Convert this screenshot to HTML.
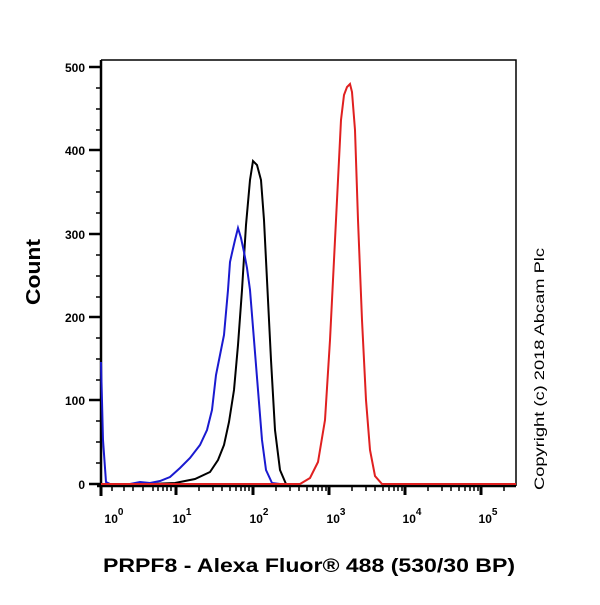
<!DOCTYPE html>
<html><head><style>body{margin:0;background:#fff}</style></head><body>
<svg width="600" height="600" xmlns="http://www.w3.org/2000/svg" style="font-family:'Liberation Sans',Arial,sans-serif">
<defs><clipPath id="cp"><rect x="90" y="480" width="427" height="30"/></clipPath></defs>
<rect width="600" height="600" fill="#fff"/>
<path d="M101,60 H516 V486" fill="none" stroke="#000" stroke-width="1.5"/>
<line x1="101" y1="60" x2="101" y2="490" stroke="#000" stroke-width="2.5"/>
<line x1="97" y1="486" x2="516" y2="486" stroke="#000" stroke-width="2.5"/>
<g stroke="#000" stroke-width="2.5">
<line x1="89" y1="67" x2="101" y2="67"/><line x1="89" y1="150" x2="101" y2="150"/><line x1="89" y1="234" x2="101" y2="234"/><line x1="89" y1="317" x2="101" y2="317"/><line x1="89" y1="400" x2="101" y2="400"/><line x1="89" y1="484" x2="101" y2="484"/>
</g>
<g stroke="#000" stroke-width="1.5">
<line x1="96" y1="88" x2="101" y2="88"/><line x1="96" y1="109" x2="101" y2="109"/><line x1="96" y1="130" x2="101" y2="130"/>
<line x1="96" y1="171" x2="101" y2="171"/><line x1="96" y1="192" x2="101" y2="192"/><line x1="96" y1="213" x2="101" y2="213"/>
<line x1="96" y1="255" x2="101" y2="255"/><line x1="96" y1="276" x2="101" y2="276"/><line x1="96" y1="297" x2="101" y2="297"/>
<line x1="96" y1="338" x2="101" y2="338"/><line x1="96" y1="359" x2="101" y2="359"/><line x1="96" y1="380" x2="101" y2="380"/>
<line x1="96" y1="421" x2="101" y2="421"/><line x1="96" y1="442" x2="101" y2="442"/><line x1="96" y1="463" x2="101" y2="463"/>
</g>
<g font-size="12" font-weight="bold" text-anchor="end">
<text x="85" y="72">500</text><text x="85" y="155">400</text><text x="85" y="239">300</text><text x="85" y="322">200</text><text x="85" y="405">100</text><text x="85" y="489">0</text>
</g>
<g clip-path="url(#cp)">
<g stroke="#000" stroke-width="1.5">
<line x1="101" y1="486" x2="101" y2="496" stroke-width="3"/>
<line x1="112" y1="486" x2="112" y2="491"/><line x1="124" y1="486" x2="124" y2="491"/><line x1="133" y1="486" x2="133" y2="491"/><line x1="143" y1="486" x2="143" y2="491"/><line x1="153" y1="486" x2="153" y2="491"/><line x1="158" y1="486" x2="158" y2="491"/><line x1="163" y1="486" x2="163" y2="491"/><line x1="167" y1="486" x2="167" y2="491"/><line x1="171" y1="486" x2="171" y2="491"/>
</g>
<g id="dec" stroke="#000" stroke-width="1.5">
<line x1="176" y1="486" x2="176" y2="495" stroke-width="3"/>
<line x1="199" y1="486" x2="199" y2="491"/><line x1="213" y1="486" x2="213" y2="491"/><line x1="222" y1="486" x2="222" y2="491"/><line x1="230" y1="486" x2="230" y2="491"/><line x1="236" y1="486" x2="236" y2="491"/><line x1="241" y1="486" x2="241" y2="491"/><line x1="245" y1="486" x2="245" y2="491"/><line x1="249" y1="486" x2="249" y2="491"/>
</g>
<use href="#dec" x="77"/><use href="#dec" x="153"/><use href="#dec" x="229"/><use href="#dec" x="305"/>
</g>
<g font-size="12" font-weight="bold" text-anchor="middle">
<text x="114" y="523">10<tspan font-size="10" dy="-8">0</tspan></text>
<text x="182" y="523">10<tspan font-size="10" dy="-8">1</tspan></text>
<text x="259" y="523">10<tspan font-size="10" dy="-8">2</tspan></text>
<text x="336" y="523">10<tspan font-size="10" dy="-8">3</tspan></text>
<text x="412" y="523">10<tspan font-size="10" dy="-8">4</tspan></text>
<text x="488" y="523">10<tspan font-size="10" dy="-8">5</tspan></text>
</g>
<path d="M101,484 L150,484 L175,483 L195,479 L210,472 L218,460 L224,445 L229,422 L234,390 L238,345 L242,290 L246,225 L250,180 L253,161 L257,165 L261,180 L264,220 L267,280 L271,360 L275,430 L280,470 L286,484 L300,484" fill="none" stroke="#000" stroke-width="2"/>
<path d="M101,362 L103,440 L106,482 L110,484 L130,484 L140,482 L150,483 L160,481 L170,477 L180,468 L190,458 L200,445 L207,430 L212,410 L216,375 L220,355 L224,335 L228,290 L230,262 L232,253 L235,240 L238,228 L241,238 L244,252 L247,268 L250,290 L254,340 L258,390 L262,440 L266,470 L272,483 L280,484 L300,484" fill="none" stroke="#1a1ad0" stroke-width="2"/>
<path d="M101,484 L300,484 L310,478 L318,462 L325,420 L330,340 L334,260 L338,180 L341,120 L344,95 L347,87 L350,84 L352,92 L355,130 L358,220 L362,320 L366,400 L370,450 L375,476 L382,484 L516,484" fill="none" stroke="#e02020" stroke-width="2"/>
<text x="40" y="272" font-size="20" font-weight="bold" text-anchor="middle" transform="rotate(-90 40 272)" textLength="66" lengthAdjust="spacingAndGlyphs">Count</text>
<text x="309" y="572" font-size="19" font-weight="bold" text-anchor="middle" textLength="412" lengthAdjust="spacingAndGlyphs">PRPF8 - Alexa Fluor® 488 (530/30 BP)</text>
<text x="544" y="369" font-size="14" text-anchor="middle" transform="rotate(-90 544 369)" textLength="242" lengthAdjust="spacingAndGlyphs">Copyright (c) 2018 Abcam Plc</text>
</svg>
</body></html>
